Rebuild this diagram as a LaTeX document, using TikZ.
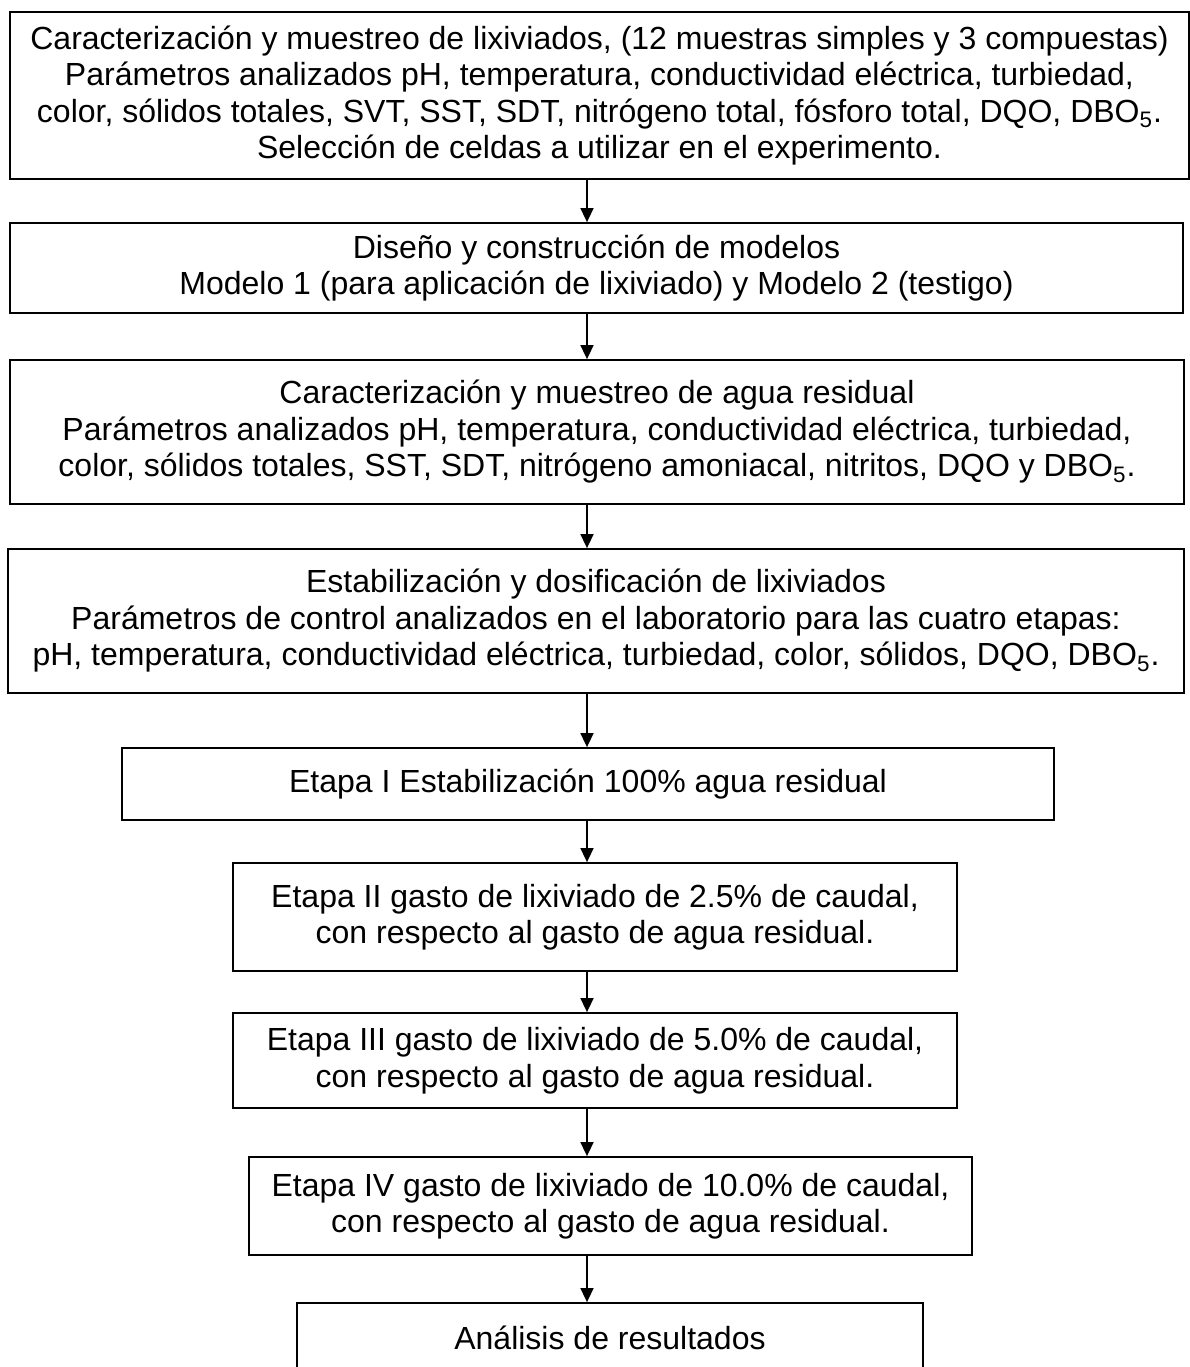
\documentclass[tikz,border=0pt]{standalone}
\usepackage{fontspec}
\setmainfont{Liberation Sans}
\usepackage{tikz}
\usetikzlibrary{arrows.meta,positioning}
\tikzset{>/.tip={Triangle[length=7pt,width=6.5pt]}}
\tikzset{box/.style={draw,line width=0.9pt,align=center,inner sep=0pt}}
\def\DBO{DBO\textsubscript{5}}

\begin{document}
\begin{tikzpicture}[x=0.5pt,y=-0.5pt,font=\fontsize{16}{18.25}\selectfont]
        \useasboundingbox (0,0) rectangle (1190,1367);
        \node(car)[box,minimum width=589.5pt,minimum height=83.5pt] at (599.5,95.5)
          {Caracterización y muestreo de lixiviados, (12 muestras simples y 3 compuestas)\\
           Parámetros analizados pH, temperatura, conductividad eléctrica, turbiedad,\\
           color, sólidos totales, SVT, SST, SDT, nitrógeno total, fósforo total, DQO, \DBO.\\
           Selección de celdas a utilizar en el experimento.};
        \node(dis)[box,minimum width=586.5pt,minimum height=45pt] at (596.5,268)
          {Diseño y construcción de modelos\\
           Modelo 1 (para aplicación de lixiviado) y Modelo 2 (testigo)};
        \node(agua)[box,minimum width=587pt,minimum height=72pt] at (597,432)
          {Caracterización y muestreo de agua residual\\
           Parámetros analizados pH, temperatura, conductividad eléctrica, turbiedad,\\
           color, sólidos totales, SST, SDT, nitrógeno amoniacal, nitritos, DQO y \DBO.};
        \node(est)[box,minimum width=588pt,minimum height=72pt] at (596,621)
          {Estabilización y dosificación de lixiviados\\
           Parámetros de control analizados en el laboratorio para las cuatro etapas:\\
           pH, temperatura, conductividad eléctrica, turbiedad, color, sólidos, DQO, \DBO.};
        \node(e1)[box,minimum width=466pt,minimum height=36pt] at (588,784)
          {Etapa I Estabilización 100\% agua residual};
        \node(e2)[box,minimum width=362pt,minimum height=54pt] at (595,917)
          {Etapa II gasto de lixiviado de 2.5\% de caudal,\\
           con respecto al gasto de agua residual.};
        \node(e3)[box,minimum width=362pt,minimum height=47.5pt] at (595,1060.5)
          {Etapa III gasto de lixiviado de 5.0\% de caudal,\\
           con respecto al gasto de agua residual.};
        \node(e4)[box,minimum width=361.5pt,minimum height=49pt] at (610.5,1206)
          {Etapa IV gasto de lixiviado de 10.0\% de caudal,\\
           con respecto al gasto de agua residual.};
        \node(res)[box,minimum width=313pt,minimum height=34.5pt] at (610,1337.5)
          {Análisis de resultados};
        \coordinate(ax) at (587,0);
        \path[->,line width=0.8pt]
        (car.south -| ax) edge (dis.north -| ax)
        (dis.south -| ax) edge (agua.north -| ax)
        (agua.south -| ax) edge (est.north -| ax)
        (est.south -| ax) edge (e1.north -| ax)
        (e1.south -| ax) edge (e2.north -| ax)
        (e2.south -| ax) edge (e3.north -| ax)
        (e3.south -| ax) edge (e4.north -| ax)
        (e4.south -| ax) edge (res.north -| ax);
      \end{tikzpicture}
\end{document}
